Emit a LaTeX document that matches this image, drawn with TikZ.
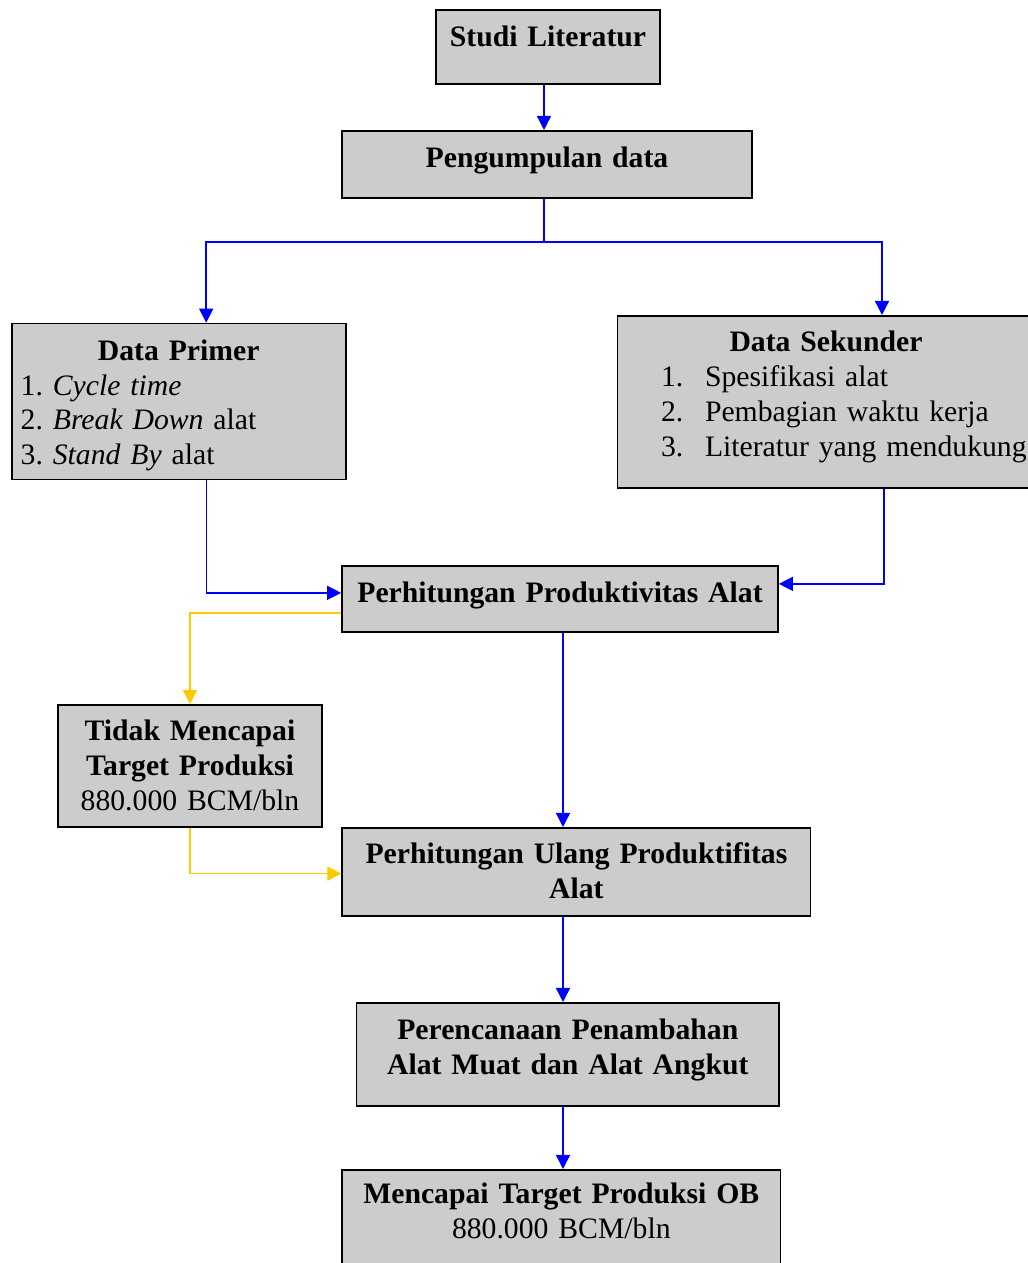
\documentclass[tikz,border=0pt]{standalone}
\usepackage{fontspec}
\setmainfont{Liberation Serif}
\usetikzlibrary{arrows.meta}
\definecolor{abu}{HTML}{CCCCCC}
\definecolor{biru}{HTML}{0000FF}
\definecolor{kuning}{HTML}{FFC800}
\frenchspacing
\tikzstyle{kotak}=[draw=black, line width=1pt, fill=abu, anchor=north, inner xsep=0.18cm, inner ysep=0pt, align=center, font=\fontsize{16.9}{19.9}\selectfont\bfseries]
\tikzstyle{panah}=[draw=biru, line width=0.8pt, -{Triangle[length=8pt,width=8pt]}]
\tikzstyle{panahk}=[panah, draw=kuning]

\begin{document}
\begin{tikzpicture}[x=0.02cm, y=-0.02cm]
        \useasboundingbox (0,0) rectangle (1027,1263);

        % Kotak-kotak alur
        \node[kotak, text width=4.12cm, text height=0.74cm, text depth=0.74cm] (studi) at (548,9) {Studi Literatur};
        \node[kotak, text width=7.84cm, text height=0.74cm, text depth=0.60cm] (kumpul) at (547,130) {Pengumpulan data};

        \node[kotak, align=left, text width=6.32cm, text height=0.73cm, text depth=2.39cm] (primer) at (178.7,322.7)
            {\makebox[\linewidth]{Data Primer}\\ \mdseries
             1. \textit{Cycle time}\\
             2. \textit{Break Down} alat\\
             3. \textit{Stand By} alat};
        \node[kotak, align=left, text width=7.98cm, text height=0.71cm, text depth=2.74cm] (sekunder) at (826,315)
            {\makebox[\linewidth]{Data Sekunder}\\ \mdseries
             \hspace*{0.69cm}\makebox[0.88cm][l]{1.}\mbox{Spesifikasi alat}\\
             \hspace*{0.69cm}\makebox[0.88cm][l]{2.}\mbox{Pembagian waktu kerja}\\
             \hspace*{0.69cm}\makebox[0.88cm][l]{3.}\mbox{Literatur yang mendukung}};

        \node[kotak, text width=8.36cm, text height=0.73cm, text depth=0.59cm] (hitung) at (560,565) {\mbox{Perhitungan Produktivitas Alat}};
        \node[kotak, text width=4.92cm, text height=0.72cm, text depth=1.72cm] (tidak) at (190,704)
            {Tidak Mencapai\\ Target Produksi\\ \mdseries 880.000 BCM/bln};
        \node[kotak, text width=9.01cm, text height=0.72cm, text depth=1.05cm] (ulang) at (576.4,827)
            {Perhitungan Ulang Produktifitas\\ Alat};
        \node[kotak, text width=8.09cm, text height=0.74cm, text depth=1.32cm] (rencana) at (567.8,1002)
            {Perencanaan Penambahan\\ Alat Muat dan Alat Angkut};
        \node[kotak, text width=8.41cm, text height=0.68cm, text depth=1.44cm] (capai) at (561.3,1169)
            {Mencapai Target Produksi OB\\ \mdseries 880.000 BCM/bln};

        % Garis penghubung
        \coordinate (bagi) at (544,242);
        \coordinate (jalur) at (563,0);
        \draw[panah] (studi.south -| bagi) -- (kumpul.north -| bagi);
        \draw[biru, line width=0.8pt] (kumpul.south -| bagi) -- (bagi);
        \draw[panah] (bagi) -| ([xshift=0.55cm]primer.north);
        \draw[panah] (bagi) -| ([xshift=1.12cm]sekunder.north);

        \draw[panah] ([xshift=0.56cm]primer.south) |- ([yshift=0.12cm]hitung.west);
        \draw[panah] ([xshift=1.16cm]sekunder.south) |- ([yshift=0.30cm]hitung.east);

        \draw[panahk] ([yshift=-0.28cm]hitung.west) -| (tidak.north);
        \draw[panahk] (tidak.south) |- ([yshift=-0.03cm]ulang.west);

        \draw[panah] (hitung.south -| jalur) -- (ulang.north -| jalur);
        \draw[panah] (ulang.south -| jalur) -- (rencana.north -| jalur);
        \draw[panah] (rencana.south -| jalur) -- (capai.north -| jalur);
\end{tikzpicture}
\end{document}
